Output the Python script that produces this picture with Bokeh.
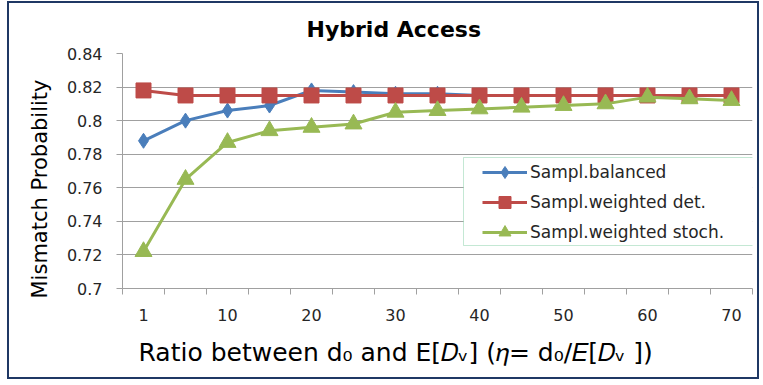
from bokeh.plotting import figure
from bokeh.models import Range1d, FixedTicker, Legend, LegendItem, Title, BoxAnnotation
from bokeh.embed import file_html
from bokeh.resources import INLINE

# ---------------- data ----------------
x_cats = ["1", "5", "10", "15", "20", "25", "30", "35", "40", "45", "50", "55", "60", "65", "70"]
balanced = [0.788, 0.800, 0.806, 0.809, 0.818, 0.817, 0.816, 0.816, 0.815, 0.815, 0.815, 0.815, 0.815, 0.815, 0.815]
weighted_det = [0.818, 0.815, 0.815, 0.815, 0.815, 0.815, 0.815, 0.815, 0.815, 0.815, 0.815, 0.815, 0.815, 0.815, 0.815]
weighted_stoch = [0.722, 0.765, 0.787, 0.794, 0.796, 0.798, 0.805, 0.806, 0.807, 0.808, 0.809, 0.810, 0.814, 0.813, 0.812]
series_names = ["Sampl.balanced", "Sampl.weighted det.", "Sampl.weighted stoch."]
y_ticks = [0.70, 0.72, 0.74, 0.76, 0.78, 0.80, 0.82, 0.84]
y_tick_labels = ["0.7", "0.72", "0.74", "0.76", "0.78", "0.8", "0.82", "0.84"]
x_label_every = 2

FONT = "DejaVu Sans"
TXT = "#262626"
GRID = "#a0a0a0"

xs = list(range(len(x_cats)))

p = figure(width=752, height=378, output_backend="svg", toolbar_location=None,
           x_range=Range1d(-0.5, len(x_cats) - 0.5), y_range=Range1d(y_ticks[0], y_ticks[-1]),
           min_border_left=113, min_border_right=9, min_border_top=50, min_border_bottom=93)
p.styles = {"border": "2px solid #1f3864", "margin-left": "7px", "margin-top": "1px"}
p.outline_line_color = None
p.background_fill_color = "white"
p.border_fill_color = "white"

# title
p.title.text = "Hybrid Access"
p.title.align = "left"
p.title.offset = 184
p.title.standoff = 23
p.title.text_font = FONT
p.title.text_font_size = "22px"
p.title.text_font_style = "bold"
p.title.text_color = "#000000"

# y axis
p.yaxis.ticker = FixedTicker(ticks=y_ticks, minor_ticks=[])
p.yaxis.major_label_overrides = {t: l for t, l in zip(y_ticks, y_tick_labels)}
p.yaxis.axis_line_color = GRID
p.yaxis.major_tick_line_color = GRID
p.yaxis.major_tick_out = 6
p.yaxis.major_tick_in = 0
p.yaxis.minor_tick_out = 0
p.yaxis.major_label_standoff = 14
p.yaxis.major_label_text_font = FONT
p.yaxis.major_label_text_font_size = "16px"
p.yaxis.major_label_text_color = TXT

ytitle = Title(text="Mismatch Probability", align="left", offset=-10, standoff=24,
               text_font=FONT, text_font_size="21px", text_font_style="normal", text_color="#000000")
p.add_layout(ytitle, "left")

# x axis
major = list(range(0, len(x_cats), x_label_every))
p.xaxis.ticker = FixedTicker(ticks=major, minor_ticks=[i - 0.5 for i in range(len(x_cats) + 1)])
p.xaxis.major_label_overrides = {i: x_cats[i] for i in major}
p.xaxis.axis_line_color = GRID
p.xaxis.major_tick_out = 0
p.xaxis.major_tick_in = 0
p.xaxis.minor_tick_line_color = GRID
p.xaxis.minor_tick_out = 6
p.xaxis.minor_tick_in = 0
p.xaxis.major_label_standoff = 14
p.xaxis.major_label_text_font = FONT
p.xaxis.major_label_text_font_size = "16px"
p.xaxis.major_label_text_color = TXT

xtitle = Title(text="Ratio between d\u2080 and E[\U0001D437\u1D65] (\U0001D702= d\u2080/\U0001D438[\U0001D437\u1D65 ])",
               align="left", offset=16, standoff=25,
               text_font=FONT, text_font_size="25px", text_font_style="normal", text_color="#000000")
p.add_layout(xtitle, "below")

p.xgrid.visible = False
p.ygrid.grid_line_color = GRID
p.ygrid.grid_line_width = 1

colors = ["#4a7ebb", "#be4b48", "#98b954"]
markers = [("diamond", 15), ("square", 15), ("triangle", 17)]
items = []
for name, ys, c, (mk, sz) in zip(series_names, [balanced, weighted_det, weighted_stoch], colors, markers):
    r1 = p.line(xs, ys, line_color=c, line_width=3)
    r2 = p.scatter(xs, ys, marker=mk, size=sz, fill_color=c, line_color=c)
    items.append(LegendItem(label=name, renderers=[r1, r2]))

# legend box
box = BoxAnnotation(left=341, right=634, bottom=43, top=131,
                    left_units="screen", right_units="screen", bottom_units="screen", top_units="screen",
                    fill_color="white", fill_alpha=1.0, line_color="#3cb371", line_width=1)
p.add_layout(box)

legend = Legend(items=items, location=(360, 41), padding=0, spacing=0, margin=0,
                glyph_width=45, glyph_height=30, label_standoff=3,
                label_text_font=FONT, label_text_font_size="17px", label_text_color=TXT,
                border_line_color=None, background_fill_alpha=0.0)
p.add_layout(legend)

open("out.html", "w").write(file_html(p, INLINE))
